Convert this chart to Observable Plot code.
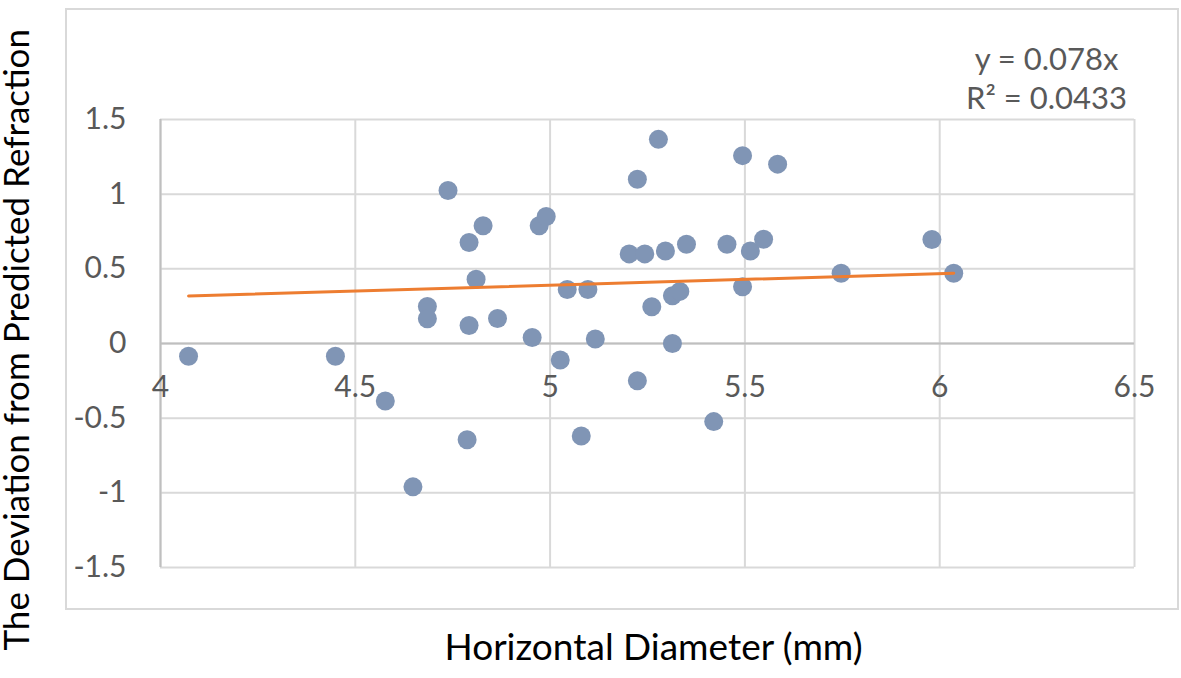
<!DOCTYPE html>
<html>
<head>
<meta charset="utf-8">
<script src="https://cdn.jsdelivr.net/npm/d3@7"></script>
<script src="https://cdn.jsdelivr.net/npm/@observablehq/plot@0.6"></script>
<style>
  html, body { margin: 0; padding: 0; background: #fff; }
  #chart { position: relative; width: 1181px; height: 678px; overflow: hidden; }
  #border { position: absolute; left: 65px; top: 8px; width: 1110px; height: 598px; border: 2px solid #d9d9d9; pointer-events: none; }
  svg { font-family: Lato, "Open Sans", sans-serif; }
</style>
</head>
<body>
<div id="chart"><div id="border"></div></div>
<script>
// Horizontal diameter (mm) of each case
const diameter = [
  4.072, 4.449, 4.577, 4.648, 4.685, 4.685, 4.738, 4.787, 4.792, 4.792,
  4.810, 4.828, 4.865, 4.954, 4.972, 4.990, 5.026, 5.044, 5.080, 5.097,
  5.116, 5.203, 5.224, 5.224, 5.243, 5.261, 5.278, 5.296, 5.314, 5.314,
  5.333, 5.350, 5.420, 5.454, 5.494, 5.494, 5.514, 5.548, 5.584, 5.747,
  5.980, 6.036
];
// Deviation from predicted refraction
const deviation = [
  -0.085, -0.085, -0.385, -0.96, 0.248, 0.166, 1.025, -0.644, 0.676, 0.121,
  0.43, 0.788, 0.168, 0.04, 0.788, 0.85, -0.11, 0.362, -0.62, 0.362,
  0.03, 0.60, 1.10, -0.25, 0.60, 0.246, 1.367, 0.62, 0.32, 0.0,
  0.349, 0.665, -0.523, 0.665, 1.258, 0.38, 0.62, 0.698, 1.201, 0.47,
  0.696, 0.47
];
const xTicks = [4, 4.5, 5, 5.5, 6, 6.5];
const yTicks = [-1.5, -1, -0.5, 0, 0.5, 1, 1.5];
const slope = 0.078;
const rSquaredLabel = "0.0433";
const equationLines = ["y = " + slope + "x", "R\u00b2 = " + rSquaredLabel];
const xTitle = "Horizontal Diameter (mm)";
const yTitle = "The Deviation from Predicted Refraction";

const points = diameter.map((d, i) => ({x: d, y: deviation[i]}));
const trend = d3.extent(diameter).map(x => ({x, y: slope * x}));

const grid = "#d9d9d9";
const labelColor = "#595959";

const chart = Plot.plot({
  width: 1181,
  height: 678,
  marginLeft: 160,
  marginRight: 47,
  marginTop: 119,
  marginBottom: 111,
  style: {background: "transparent", overflow: "visible"},
  x: {domain: [4, 6.5], axis: null},
  y: {domain: [-1.5, 1.5], axis: null},
  marks: [
    Plot.ruleX(xTicks, {x: d => d, stroke: grid, strokeWidth: 2}),
    Plot.ruleY(yTicks, {y: d => d, stroke: grid, strokeWidth: 2}),
    Plot.ruleY([0], {y: d => d, stroke: "#bfbfbf", strokeWidth: 2}),
    Plot.ruleX([4], {x: d => d, stroke: "#bfbfbf", strokeWidth: 2}),
    Plot.dot(points, {x: "x", y: "y", r: 9.5, fill: "#8095b5", stroke: "none"}),
    Plot.line(trend, {x: "x", y: "y", stroke: "#ED7D31", strokeWidth: 3}),
    Plot.text(yTicks, {y: d => d, frameAnchor: "left", text: d => String(d), textAnchor: "end", dx: -34, fill: labelColor, fontSize: 30}),
    Plot.text(xTicks, {x: d => d, y: () => 0, text: d => String(d), dy: 44, fill: labelColor, fontSize: 30}),
    Plot.text([equationLines[0]], {frameAnchor: "top-right", text: d => d, textAnchor: "middle", dx: -88, dy: -72, fill: labelColor, fontSize: 31}),
    Plot.text([equationLines[1]], {frameAnchor: "top-right", text: d => d, textAnchor: "middle", dx: -88, dy: -33, fill: labelColor, fontSize: 31}),
    Plot.text([xTitle], {frameAnchor: "bottom", text: d => d, dx: 6, dy: 92, fill: "#000", fontSize: 37}),
    Plot.text([yTitle], {frameAnchor: "bottom-left", text: d => d, rotate: -90, textAnchor: "start", dx: -132, dy: 83, fill: "#000", fontSize: 35})
  ]
});
document.getElementById("chart").prepend(chart);
chart.style.position = "absolute";
chart.style.left = "0";
chart.style.top = "0";
</script>
</body>
</html>
